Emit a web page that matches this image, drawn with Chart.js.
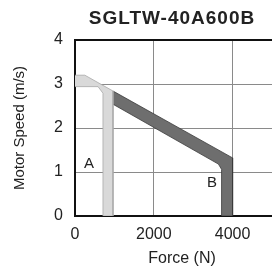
<!DOCTYPE html>
<html>
<head>
<meta charset="utf-8">
<script src="https://cdn.jsdelivr.net/npm/chart.js@4"></script>
<style>
  html, body { margin:0; padding:0; background:#fff; overflow:hidden; }
  #wrap { width:272px; height:271px; }
</style>
</head>
<body>
<div id="wrap"><canvas id="c" width="272" height="271"></canvas></div>
<script>
const chartTitle = 'SGLTW-40A600B';
const xTitle = 'Force (N)';
const yTitle = 'Motor Speed (m/s)';

// region A (light), outline points
const aForce = [0, 250, 965, 965, 710, 710, 585, 0];
const aSpeed = [3.2, 3.2, 2.84, 0, 0, 2.79, 2.94, 2.94];

// region B (dark), outline points
const bForce = [965, 4000, 4000, 3720, 3720, 3640, 965];
const bSpeed = [2.84, 1.32, 0, 0, 1.06, 1.18, 2.54];

const xTicks = [0, 2000, 4000];
const yTicks = [0, 1, 2, 3, 4];

const labels = [
  { text: 'A', x: 355, y: 1.18 },
  { text: 'B', x: 3480, y: 0.75 }
];

const FONT = "'Liberation Sans', Arial, sans-serif";

const pts = (xs, ys) => xs.map((x, i) => ({ x, y: ys[i] }));

const textPlugin = {
  id: 'texts',
  afterDraw(chart){
    const { ctx, scales:{ x, y } } = chart;
    ctx.save();
    ctx.fillStyle = '#222';
    ctx.textAlign = 'center';
    ctx.textBaseline = 'middle';
    ctx.font = `bold 19px ${FONT}`;
    ctx.letterSpacing = '1px';
    ctx.fillText(chartTitle, 172, 19);
    ctx.letterSpacing = '0px';
    ctx.font = `16px ${FONT}`;
    ctx.fillText(xTitle, 182, 259);
    ctx.font = `15px ${FONT}`;
    for (const l of labels){
      ctx.fillText(l.text, x.getPixelForValue(l.x), y.getPixelForValue(l.y));
    }
    ctx.restore();
  }
};

new Chart(document.getElementById('c'), {
  type: 'line',
  data: {
    datasets: [
      {
        data: pts(aForce, aSpeed),
        fill: 'shape',
        backgroundColor: '#d9d9d9',
        borderColor: '#a8a8a8',
        borderWidth: 0.8,
        pointRadius: 0,
        tension: 0
      },
      {
        data: pts(bForce, bSpeed),
        fill: 'shape',
        backgroundColor: '#6e6e6e',
        borderColor: '#3a3a3a',
        borderWidth: 0.8,
        pointRadius: 0,
        tension: 0
      }
    ]
  },
  options: {
    responsive: false,
    animation: false,
    layout: { padding: { top: 40, right: 0, left: 0, bottom: 0 } },
    plugins: { legend: { display:false }, tooltip: { enabled:false }, title: { display:false } },
    scales: {
      x: {
        type: 'linear',
        min: 0, max: 5000,
        afterBuildTicks: s => { s.ticks = xTicks.map(v => ({ value: v })); },
        afterFit: s => { s.height = 55; },
        ticks: {
          color: '#222',
          font: { family: FONT, size: 16 },
          padding: 9,
          maxRotation: 0,
          callback: v => String(v)
        },
        grid: {
          drawTicks: false,
          color: '#8a8a8a',
          lineWidth: 1
        },
        border: { color: '#111', width: 2 }
      },
      y: {
        type: 'linear',
        min: 0, max: 4,
        afterBuildTicks: s => { s.ticks = yTicks.map(v => ({ value: v })); },
        afterFit: s => { s.width = 75; },
        ticks: {
          color: '#222',
          font: { family: FONT, size: 16 },
          padding: 12,
          callback: v => String(v)
        },
        grid: {
          drawTicks: false,
          color: c => c.tick && c.tick.value === 4 ? '#111' : '#8a8a8a',
          lineWidth: c => c.tick && c.tick.value === 4 ? 2 : 1
        },
        border: { color: '#111', width: 2 },
        title: {
          display: true,
          text: yTitle,
          color: '#222',
          font: { family: FONT, size: 15 },
          padding: { top: 11, bottom: 0 }
        }
      }
    }
  },
  plugins: [textPlugin]
});
</script>
</body>
</html>
